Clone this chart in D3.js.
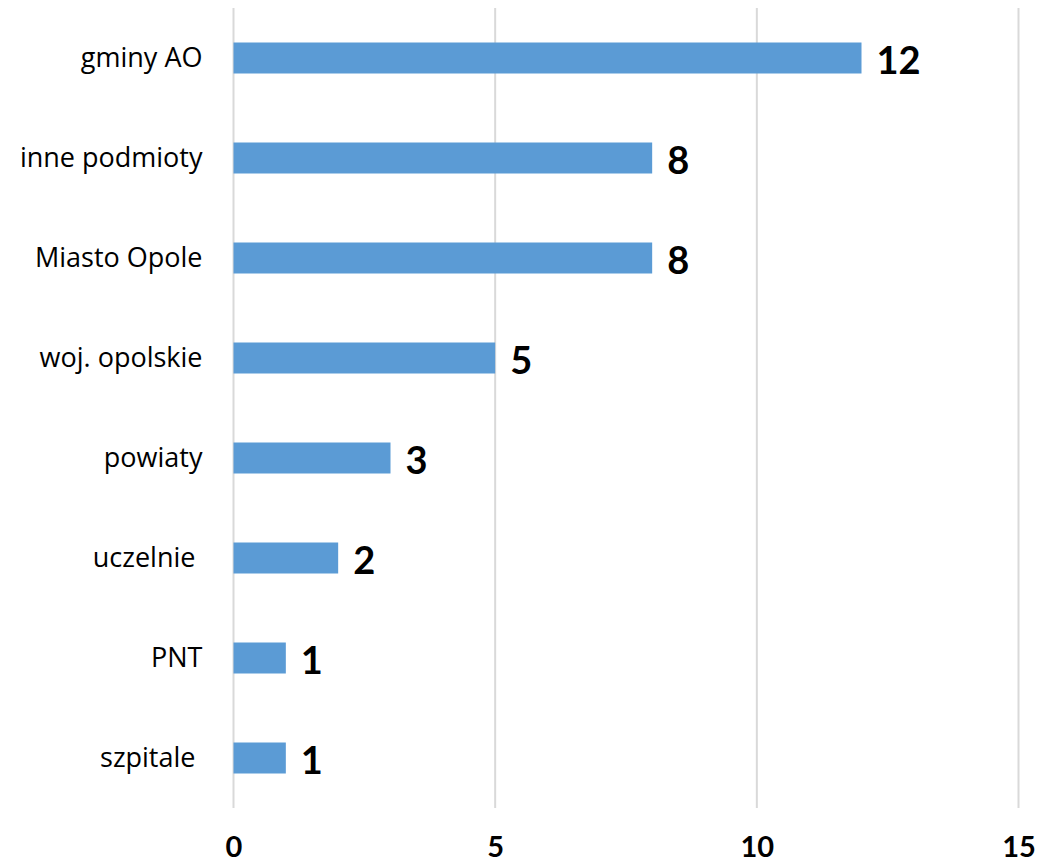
<!DOCTYPE html>
<html>
<head>
<meta charset="utf-8">
<script src="https://cdn.jsdelivr.net/npm/d3@7"></script>
<style>
  html, body { margin: 0; padding: 0; background: #fff; }
  svg { display: block; }
  .cat { white-space: pre; }
</style>
</head>
<body>
<svg id="chart" width="1038" height="862"></svg>
<script>
const categories = ["gminy AO", "inne podmioty", "Miasto Opole", "woj. opolskie", "powiaty", "uczelnie ", "PNT", "szpitale "];
const values = [12, 8, 8, 5, 3, 2, 1, 1];
const xTicks = [0, 5, 10, 15];

const svg = d3.select("#chart");
const mLeft = 233.5, mRight = 1018.5, mTop = 8, mBottom = 808;
const catFont = "'Open Sans', Lato, sans-serif";
const numFont = "Lato, 'Open Sans', sans-serif";

const x = d3.scaleLinear().domain([0, 15]).range([mLeft, mRight]);
const y = d3.scaleBand().domain(categories).range([mTop, mBottom]).paddingInner(0.69).paddingOuter(0.345);

// gridlines
svg.append("g").selectAll("line").data(xTicks).join("line")
  .attr("x1", d => x(d)).attr("x2", d => x(d))
  .attr("y1", mTop).attr("y2", mBottom)
  .attr("stroke", "#d9d9d9").attr("stroke-width", 2);

// bars
svg.append("g").selectAll("rect").data(categories).join("rect")
  .attr("x", x(0))
  .attr("y", d => y(d))
  .attr("width", (d, i) => x(values[i]) - x(0))
  .attr("height", y.bandwidth())
  .attr("fill", "#5b9bd5");

// category labels
svg.append("g").selectAll("text").data(categories).join("text")
  .attr("class", "cat")
  .attr("xml:space", "preserve")
  .attr("x", mLeft - 31)
  .attr("y", d => y(d) + y.bandwidth() / 2 + 9)
  .attr("text-anchor", "end")
  .attr("font-family", catFont)
  .attr("font-size", 27)
  .attr("fill", "#000")
  .text(d => d);

// value labels
svg.append("g").selectAll("text").data(categories).join("text")
  .attr("x", (d, i) => x(values[i]) + 15)
  .attr("y", d => y(d) + y.bandwidth() / 2 + 16)
  .attr("font-family", numFont)
  .attr("font-size", 38)
  .attr("font-weight", "bold")
  .attr("fill", "#000")
  .text((d, i) => values[i]);

// x axis tick labels
const axis = d3.axisBottom(x).tickValues(xTicks).tickSize(0).tickPadding(0);
const gx = svg.append("g").attr("transform", `translate(0,${mBottom})`).call(axis);
gx.select(".domain").remove();
gx.selectAll("text")
  .attr("y", 49)
  .attr("dy", 0)
  .attr("font-family", numFont)
  .attr("font-size", 29)
  .attr("font-weight", "bold")
  .attr("fill", "#000");
</script>
</body>
</html>
